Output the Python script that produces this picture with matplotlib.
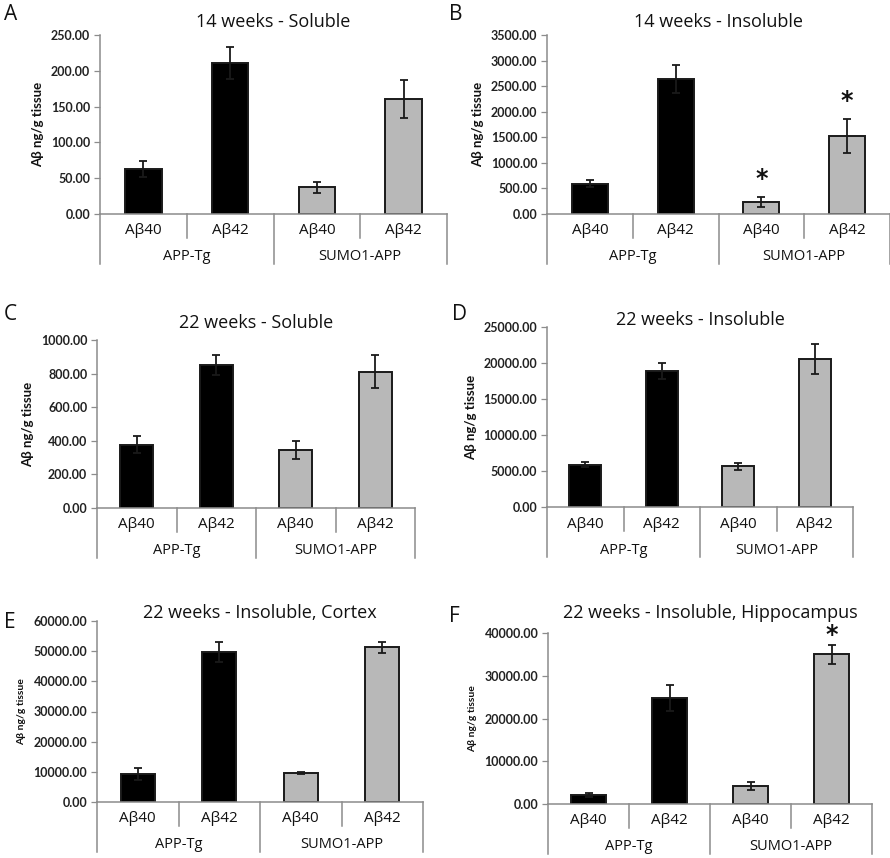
import numpy as np
import matplotlib.pyplot as plt

plt.rcParams['font.family'] = ['Open Sans', 'DejaVu Sans']

# categories
bar_labels = ['Aβ40', 'Aβ42', 'Aβ40', 'Aβ42']
group_labels = ['APP-Tg', 'SUMO1-APP']
bar_colors = ['black', 'black', '#b8b8b8', '#b8b8b8']

# panel data (ng/g tissue): means and error
a_vals = [62.8, 210.4, 37.2, 160.1]
a_errs = [10.7, 22.4, 8.0, 26.6]
b_vals = [593, 2640, 235, 1532]
b_errs = [65, 273, 104, 332]
c_vals = [376, 850, 345, 812]
c_errs = [50, 61, 55, 99]
d_vals = [5880, 18890, 5650, 20560]
d_errs = [320, 1065, 460, 2040]
e_vals = [9280, 49720, 9610, 51270]
e_errs = [2100, 3300, 440, 1770]
f_vals = [2100, 24830, 4200, 35020]
f_errs = [390, 3030, 930, 2260]

W, H = 890, 858
fig = plt.figure(figsize=(W / 100, H / 100), dpi=100)

axis_grey = '#8c8c8c'
bold_font = ['Lato', 'DejaVu Sans']

def panel(letter, title, vals, errs, ymax, step, box, letter_xy, title_y,
          ylab_size=9.5, stars=(), star_off=4):
    left, right, top, bottom = box
    hpx = bottom - top
    ax = fig.add_axes([left / W, 1 - bottom / H, (right - left) / W, hpx / H])
    x = np.arange(4)
    ax.bar(x, vals, width=0.42, color=bar_colors, edgecolor='#1a1a1a',
           linewidth=1.4, zorder=2)
    ax.errorbar(x, vals, yerr=errs, fmt='none', ecolor='#1a1a1a',
                elinewidth=1.3, capsize=3, capthick=1.3, zorder=3)
    ax.set_xlim(-0.5, 3.5)
    ax.set_ylim(0, ymax)
    ticks = np.arange(0, ymax + step / 2, step)
    ax.set_yticks(ticks)
    ax.set_yticklabels(['%.2f' % v for v in ticks], fontweight='bold',
                       fontsize=9, color='#222222', family=bold_font)
    ax.tick_params(axis='y', length=4, width=0.9, color=axis_grey, pad=3)
    ax.set_xticks([])
    for s in ['top', 'right']:
        ax.spines[s].set_visible(False)
    for s in ['left', 'bottom']:
        ax.spines[s].set_color(axis_grey)
        ax.spines[s].set_linewidth(1.1)
    ax.patch.set_alpha(0)
    ax.set_ylabel('Aβ ng/g tissue', fontweight='bold', fontsize=ylab_size,
                  color='#111111', labelpad=5, family=bold_font)
    tr = ax.get_xaxis_transform()
    # category separators
    for xd, ln in [(-0.5, 50), (0.5, 24), (1.5, 50), (2.5, 24), (3.5, 50)]:
        ax.plot([xd, xd], [0, -ln / hpx], transform=tr, color=axis_grey,
                lw=1.1, clip_on=False)
    for xi, lab in zip(x, bar_labels):
        ax.text(xi, -17 / hpx, lab, transform=tr, ha='center', va='center',
                fontsize=11, color='#111111')
    for gi, lab in enumerate(group_labels):
        ax.text(0.5 + 2 * gi, -43 / hpx, lab, transform=tr, ha='center',
                va='center', fontsize=10.5, color='#111111')
    for i in stars:
        ax.annotate('*', (i, vals[i] + errs[i]), xytext=(0, star_off),
                    textcoords='offset points', ha='center', va='bottom',
                    fontsize=17, fontweight='bold', color='#111111',
                    family=['DejaVu Sans'])
    fig.text(((left + right) / 2) / W, 1 - title_y / H, title, ha='center',
             va='center', fontsize=13, color='#111111')
    fig.text(letter_xy[0] / W, 1 - letter_xy[1] / H, letter, ha='left',
             va='center', fontsize=15, color='#111111')
    return ax

panel('A', '14 weeks - Soluble', a_vals, a_errs, 250, 50,
      (100, 447, 35, 214), (4, 15), 22)
panel('B', '14 weeks - Insoluble', b_vals, b_errs, 3500, 500,
      (547, 890, 35, 214), (449, 15), 22, stars=(2, 3))
panel('C', '22 weeks - Soluble', c_vals, c_errs, 1000, 200,
      (97, 415, 340, 508), (4, 315), 323)
panel('D', '22 weeks - Insoluble', d_vals, d_errs, 25000, 5000,
      (547, 853, 327, 507), (452, 315), 320)
panel('E', '22 weeks - Insoluble, Cortex', e_vals, e_errs, 60000, 10000,
      (97, 423, 621, 802), (4, 623), 613, ylab_size=7.5)
panel('F', '22 weeks - Insoluble, Hippocampus', f_vals, f_errs, 40000, 10000,
      (548, 872, 633, 804), (449, 617), 613, ylab_size=7.5, stars=(3,),
      star_off=-2)

fig.savefig('out.png', dpi=100, facecolor='white')
